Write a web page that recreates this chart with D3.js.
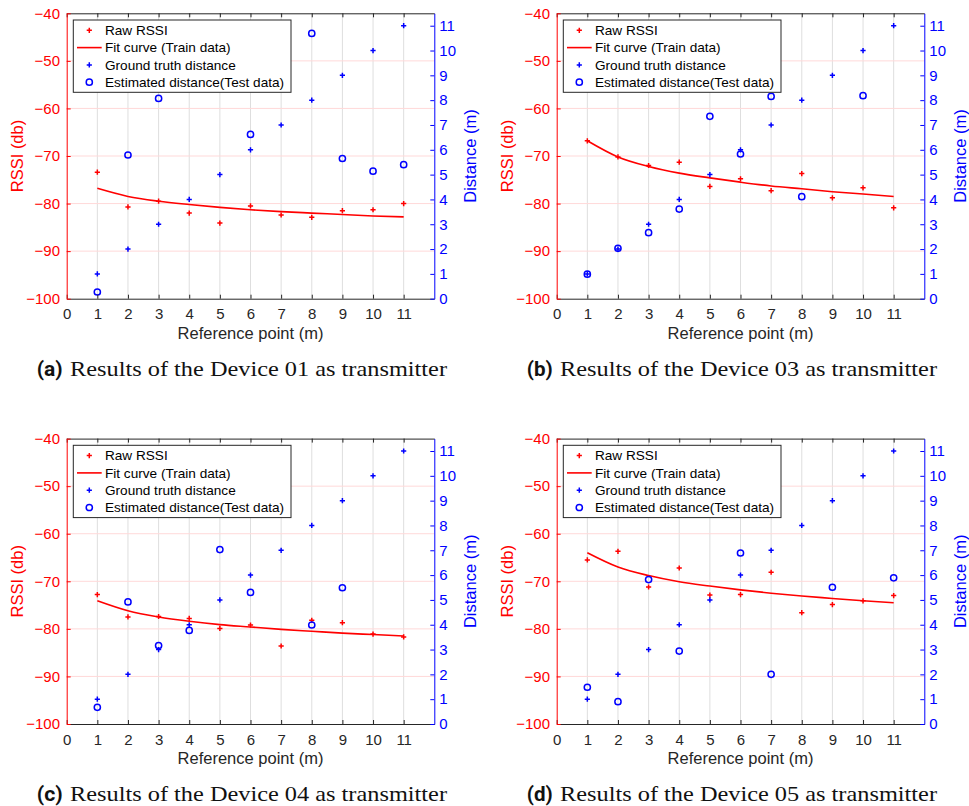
<!DOCTYPE html>
<html>
<head>
<meta charset="utf-8">
<script src="https://cdn.jsdelivr.net/npm/d3@7"></script>
<style>
  html, body { margin: 0; padding: 0; background: #fff; }
  svg { display: block; }
</style>
</head>
<body>
<svg id="chart" width="969" height="806"></svg>
<script>
window.addEventListener('DOMContentLoaded', () => {

// reference points (x) and tick labels
const refPoints = [1, 2, 3, 4, 5, 6, 7, 8, 9, 10, 11]
const xTicks = [0, 1, 2, 3, 4, 5, 6, 7, 8, 9, 10, 11]
const rssiTicks = [-100, -90, -80, -70, -60, -50, -40]
const distTicks = [0, 1, 2, 3, 4, 5, 6, 7, 8, 9, 10, 11]

// ground truth distance is the same in every panel
const groundTruth = [1, 2, 3, 4, 5, 6, 7, 8, 9, 10, 11]

// (a) Device 01
const rawA = [-73.4, -80.7, -79.5, -82.0, -84.1, -80.5, -82.4, -82.9, -81.5, -81.3, -80.0]
const fitA = [-76.8, -78.5, -79.5, -80.2, -80.8, -81.3, -81.7, -82.0, -82.3, -82.6, -82.8]
const estA = [0.27, 5.79, 8.07, null, null, 6.62, null, 10.69, 5.65, 5.14, 5.40]

// (b) Device 03
const rawB = [-66.8, -70.2, -72.0, -71.3, -76.4, -74.8, -77.3, -73.7, -78.8, -76.7, -80.9]
const fitB = [-66.8, -70.2, -72.2, -73.6, -74.6, -75.5, -76.3, -76.9, -77.5, -78.0, -78.5]
const estB = [0.99, 2.03, 2.66, 3.61, 7.35, 5.83, 8.15, 4.11, null, 8.18, null]

// (c) Device 04
const rawC = [-72.8, -77.5, -77.4, -77.8, -79.9, -79.2, -83.6, -78.2, -78.7, -81.1, -81.7]
const fitC = [-74.1, -76.2, -77.5, -78.4, -79.1, -79.6, -80.1, -80.5, -80.9, -81.2, -81.5]
const estC = [0.67, 4.92, 3.16, 3.77, 7.03, 5.30, null, 3.99, 5.49, null, null]

// (d) Device 05
const rawD = [-65.5, -63.7, -71.2, -67.2, -72.9, -72.8, -68.1, -76.6, -74.9, -74.1, -73.0]
const fitD = [-64.0, -67.0, -68.8, -70.1, -71.0, -71.8, -72.5, -73.1, -73.6, -74.1, -74.5]
const estD = [1.48, 0.90, 5.82, 2.94, null, 6.89, 2.00, null, 5.51, null, 5.89]

const panelLetters = ['(a)', '(b)', '(c)', '(d)']
const deviceNames = ['01', '03', '04', '05']
const legendLabels = ['Raw RSSI', 'Fit curve (Train data)', 'Ground truth distance', 'Estimated distance(Test data)']

const RED = '#ff0000'
const BLUE = '#0000ff'
const DARK = '#262626'
const SANS = '"Liberation Sans", Arial, Helvetica, sans-serif'

let svg = d3.select('#chart')
svg.append('rect').attr('width', 969).attr('height', 806).attr('fill', '#fff')

const m = { left: 66.7, top: 13.3, w: 367.6, h: 285.4 }
const plusPath = 'M-2.6,0H2.6M0,-2.6V2.6'

let panels = [
  { raw: rawA, fit: fitA, est: estA, ox: 0, oy: 0 },
  { raw: rawB, fit: fitB, est: estB, ox: 490, oy: 0 },
  { raw: rawC, fit: fitC, est: estC, ox: 0, oy: 425.3 },
  { raw: rawD, fit: fitD, est: estD, ox: 490, oy: 425.3 }
]

let drawPanel = (p, i) => {
  let g = svg.append('g').attr('transform', `translate(${p.ox},${p.oy})`)

  let x = d3.scaleLinear().domain([0, 12]).range([m.left, m.left + m.w])
  let yL = d3.scaleLinear().domain([-100, -40]).range([m.top + m.h, m.top])
  let yR = d3.scaleLinear().domain([0, 11.5]).range([m.top + m.h, m.top])

  // grid
  g.append('g').selectAll('line')
    .data(refPoints)
    .enter().append('line')
    .attr('x1', d => x(d)).attr('x2', d => x(d))
    .attr('y1', m.top).attr('y2', m.top + m.h)
    .attr('stroke', '#dedede').attr('stroke-width', 1)

  g.append('g').selectAll('line')
    .data(rssiTicks.filter(d => d > -100 && d < -40))
    .enter().append('line')
    .attr('x1', m.left).attr('x2', m.left + m.w)
    .attr('y1', d => yL(d)).attr('y2', d => yL(d))
    .attr('stroke', '#ffd9d9').attr('stroke-width', 1)

  // raw rssi
  g.append('g').selectAll('path')
    .data(p.raw.map((v, k) => [refPoints[k], v]))
    .enter().append('path')
    .attr('transform', d => `translate(${x(d[0])},${yL(d[1])})`)
    .attr('d', plusPath)
    .attr('stroke', RED).attr('stroke-width', 1.5).attr('fill', 'none')

  // fit curve
  let line = d3.line()
    .x((d, k) => x(refPoints[k]))
    .y(d => yL(d))
    .curve(d3.curveMonotoneX)
  g.append('path')
    .attr('d', line(p.fit))
    .attr('fill', 'none').attr('stroke', RED).attr('stroke-width', 1.6)

  // ground truth distance
  g.append('g').selectAll('path')
    .data(groundTruth.map((v, k) => [refPoints[k], v]))
    .enter().append('path')
    .attr('transform', d => `translate(${x(d[0])},${yR(d[1])})`)
    .attr('d', plusPath)
    .attr('stroke', BLUE).attr('stroke-width', 1.5).attr('fill', 'none')

  // estimated distance
  g.append('g').selectAll('circle')
    .data(p.est.map((v, k) => [refPoints[k], v]).filter(d => d[1] != null))
    .enter().append('circle')
    .attr('cx', d => x(d[0])).attr('cy', d => yR(d[1]))
    .attr('r', 3.1)
    .attr('fill', 'none').attr('stroke', BLUE).attr('stroke-width', 1.5)

  // legend
  let lg = g.append('g').attr('transform', `translate(${m.left + 6.6},${m.top + 6.7})`)
  lg.append('rect')
    .attr('width', 217.7).attr('height', 72.3)
    .attr('fill', '#fff').attr('stroke', DARK).attr('stroke-width', 1)
  let rows = [10.3, 27.6, 44.9, 62.2]
  lg.selectAll('text')
    .data(legendLabels)
    .enter().append('text')
    .attr('x', 31.7).attr('y', (d, k) => rows[k])
    .attr('dy', '0.35em')
    .attr('font-family', SANS).attr('font-size', 13.6)
    .attr('fill', '#000')
    .text(d => d)
  lg.append('path').attr('transform', `translate(16,${rows[0]})`).attr('d', plusPath)
    .attr('stroke', RED).attr('stroke-width', 1.5)
  lg.append('line').attr('x1', 3.7).attr('x2', 28.4).attr('y1', rows[1]).attr('y2', rows[1])
    .attr('stroke', RED).attr('stroke-width', 1.6)
  lg.append('path').attr('transform', `translate(16,${rows[2]})`).attr('d', plusPath)
    .attr('stroke', BLUE).attr('stroke-width', 1.5)
  lg.append('circle').attr('cx', 16).attr('cy', rows[3]).attr('r', 3.1)
    .attr('fill', 'none').attr('stroke', BLUE).attr('stroke-width', 1.5)

  // axes
  let styleAxis = (a, color, textColor) => {
    a.selectAll('path.domain').attr('stroke', color).attr('stroke-width', 1)
    a.selectAll('.tick line').attr('stroke', color).attr('stroke-width', 1)
    a.selectAll('.tick text').attr('fill', textColor)
      .attr('font-family', SANS).attr('font-size', 15)
  }

  let top = g.append('g').attr('transform', `translate(0,${m.top})`)
    .call(d3.axisTop(x).tickValues(xTicks).tickSize(-4).tickSizeOuter(0).tickFormat(''))
  styleAxis(top, DARK, DARK)

  let bottom = g.append('g').attr('transform', `translate(0,${m.top + m.h})`)
    .call(d3.axisBottom(x).tickValues(xTicks).tickSize(-4).tickSizeOuter(0).tickPadding(10))
  styleAxis(bottom, DARK, DARK)

  let left = g.append('g').attr('transform', `translate(${m.left},0)`)
    .call(d3.axisLeft(yL).tickValues(rssiTicks).tickSize(-4).tickSizeOuter(0).tickPadding(6.7)
      .tickFormat(d3.format('d')))
  styleAxis(left, RED, RED)

  let right = g.append('g').attr('transform', `translate(${m.left + m.w},0)`)
    .call(d3.axisRight(yR).tickValues(distTicks).tickSize(-4).tickSizeOuter(0).tickPadding(5))
  styleAxis(right, BLUE, BLUE)

  // axis titles
  g.append('text')
    .attr('transform', `translate(17.3,${m.top + m.h / 2}) rotate(-90)`)
    .attr('text-anchor', 'middle').attr('dy', '0.35em')
    .attr('font-family', SANS).attr('font-size', 16.5).attr('fill', RED)
    .text('RSSI (db)')
  g.append('text')
    .attr('transform', `translate(470.7,${m.top + m.h / 2}) rotate(-90)`)
    .attr('text-anchor', 'middle').attr('dy', '0.35em')
    .attr('font-family', SANS).attr('font-size', 16.5).attr('fill', BLUE)
    .text('Distance (m)')
  g.append('text')
    .attr('x', m.left + m.w / 2).attr('y', 333.3)
    .attr('text-anchor', 'middle').attr('dy', '0.35em')
    .attr('font-family', SANS).attr('font-size', 16.5).attr('fill', DARK)
    .text('Reference point (m)')

  // caption
  g.append('text')
    .attr('x', 36.7).attr('y', 376)
    .attr('font-family', '"Liberation Sans Narrow", Roboto, sans-serif')
    .attr('font-weight', 'bold').attr('font-size', 20)
    .attr('textLength', 26).attr('lengthAdjust', 'spacingAndGlyphs')
    .attr('fill', '#111')
    .text(panelLetters[i])
  g.append('text')
    .attr('x', 70).attr('y', 376)
    .attr('font-family', '"Liberation Serif", "DejaVu Serif", serif')
    .attr('font-size', 21)
    .attr('textLength', 377).attr('lengthAdjust', 'spacingAndGlyphs')
    .attr('fill', '#111')
    .text(`Results of the Device ${deviceNames[i]} as transmitter`)
}

panels.forEach(drawPanel)

})
</script>
</body>
</html>
